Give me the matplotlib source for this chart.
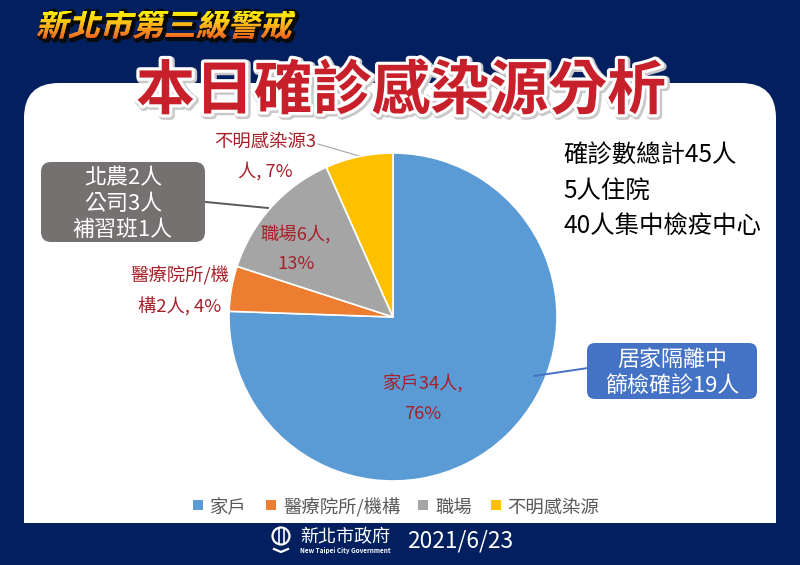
import matplotlib
matplotlib.use("Agg")
import matplotlib.pyplot as plt
import matplotlib.patheffects as pe
from matplotlib.patches import FancyBboxPatch, Rectangle, Circle
from matplotlib.transforms import Affine2D, Bbox
import matplotlib.colors as mcolors

plt.rcParams['font.family'] = ['Noto Sans CJK TC', 'DejaVu Sans']

categories = ['家戶', '醫療院所/機構', '職場', '不明感染源']
values = [34, 2, 6, 3]
colors = ['#5B9BD5', '#ED7D31', '#A5A5A5', '#FFC000']
slice_labels = ['家戶34人,\n76%', '醫療院所/機\n構2人, 4%', '職場6人,\n13%', '不明感染源3\n人, 7%']
summary_lines = ['確診數總計45人', '5人住院', '40人集中檢疫中心']
grey_note = '北農2人\n公司3人\n補習班1人'
blue_note = '居家隔離中\n篩檢確診19人'
main_title = '本日確診感染源分析'
sub_title = '新北市第三級警戒'
date_text = '2021/6/23'

W, H = 800, 565
NAVY = '#02205F'
RED = '#A8202A'
fig = plt.figure(figsize=(8, 5.65), dpi=100, facecolor=NAVY)
ax = fig.add_axes([0, 0, 1, 1])
Y = lambda py: H - py


class SlantGradient(pe.AbstractPathEffect):
    """Slanted text filled with a vertical yellow-to-red gradient, over a dark shadow."""

    def __init__(self, y_top, y_bottom, shear=14, bands=24):
        super().__init__()
        self.y_top, self.y_bottom, self.shear, self.bands = y_top, y_bottom, shear, bands
        self.cmap = mcolors.LinearSegmentedColormap.from_list(
            'g', ['#FFF200', '#FFC814', '#F78A1E', '#E8481C'])

    def draw_path(self, renderer, gc, tpath, affine, rgbFace=None):
        pivot = (self.y_top + self.y_bottom) / 2
        slant = affine + Affine2D().translate(0, -pivot).skew_deg(self.shear, 0).translate(0, pivot)
        g0 = renderer.new_gc()
        g0.copy_properties(gc)
        g0.set_foreground('#0A0A0A')
        g0.set_linewidth(3.0)
        renderer.draw_path(g0, tpath, slant + Affine2D().translate(2, -2), (0.04, 0.04, 0.04, 1))
        g0.restore()
        step = (self.y_top - self.y_bottom) / self.bands
        for i in range(self.bands):
            g1 = renderer.new_gc()
            g1.copy_properties(gc)
            g1.set_linewidth(0)
            top = self.y_top - i * step
            g1.set_clip_rectangle(Bbox([[0, top - step - 0.5], [800, top + 0.5]]))
            renderer.draw_path(g1, tpath, slant, self.cmap(i / (self.bands - 1)))
            g1.restore()


# white panel: rounded top corners, square bottom corners
ax.add_patch(FancyBboxPatch((24, Y(523)), 752, 440, boxstyle='round,pad=0,rounding_size=35',
                            fc='white', ec='none', zorder=1))
ax.add_patch(Rectangle((24, Y(523)), 752, 100, fc='white', ec='none', zorder=1))

wedges, _ = ax.pie(values, colors=colors, startangle=90, counterclock=False,
                   center=(393, Y(317)), radius=164, frame=False,
                   wedgeprops=dict(edgecolor='white', linewidth=1.2, zorder=3))
ax.set_xlim(0, W)
ax.set_ylim(0, H)
ax.set_aspect('equal')
ax.axis('off')

# slice labels
label_xy = [(423, 399), (180, 291), (296, 249), (265, 157)]
for (x, y), s in zip(label_xy, slice_labels):
    ax.text(x, Y(y), s, color=RED, fontsize=13.2, ha='center', va='center',
            linespacing=1.78, zorder=5)

# leader lines
ax.plot([318, 359], [Y(144), Y(156)], color='#A6A6A6', lw=0.8, zorder=2)
ax.plot([206, 268], [Y(202), Y(208)], color='#595959', lw=1.4, zorder=2)
ax.plot([534, 588], [Y(376), Y(368)], color='#4472C4', lw=1.4, zorder=4)

# notes
ax.add_patch(FancyBboxPatch((41, Y(242)), 164, 80, boxstyle='round,pad=0,rounding_size=10',
                            fc='#767171', ec='none', zorder=4))
ax.text(123, Y(204), grey_note, color='white', fontsize=15.8, ha='center', va='center',
        linespacing=1.22, zorder=5)
ax.add_patch(FancyBboxPatch((587, Y(399)), 170, 56, boxstyle='round,pad=0,rounding_size=8',
                            fc='#4472C4', ec='none', zorder=4))
ax.text(672, Y(373), blue_note, color='white', fontsize=15.8, ha='center', va='center',
        linespacing=1.3, zorder=5)

# summary
for s, py in zip(summary_lines, [156, 191, 226]):
    ax.text(563, Y(py), s, color='black', fontsize=17.6, ha='left', va='center', zorder=5)

# titles
ax.text(401, Y(92), main_title, color='#C8202A', fontsize=42.4, fontweight='bold', ha='center', va='center', zorder=6,
        path_effects=[pe.Stroke(linewidth=6, foreground='#C9C9C9', offset=(1, -1)),
                      pe.withStroke(linewidth=4.5, foreground='white')])
ax.text(166, Y(27), sub_title, color='#F9A71E', fontsize=23, fontweight='bold', ha='center', va='center', zorder=6,
        path_effects=[SlantGradient(Y(11), Y(43))])

# legend
handles_x = [193, 266, 418, 491]
text_x = [210, 283, 435, 507]
for hx, tx, name, c in zip(handles_x, text_x, categories, colors):
    ax.add_patch(Rectangle((hx, Y(510)), 10, 10, fc=c, ec='none', zorder=5))
    ax.text(tx, Y(508), name, color='#595959', fontsize=13.2, ha='left', va='center', zorder=5)

# footer
ax.text(345, Y(537), '新北市政府', color='white', fontsize=13, ha='center', va='center', zorder=5)
ax.text(345, Y(551), 'New Taipei City Government', color='white', fontsize=4.6, fontweight='bold',
        ha='center', va='center', zorder=5)
ax.text(460, Y(541), date_text, color='white', fontsize=16.4, ha='center', va='center', zorder=5)

# emblem
ax.add_patch(Circle((281, Y(536)), 8.5, fc='none', ec='white', lw=1.6, zorder=5))
for dx in (-2.5, 2.5):
    ax.plot([281 + dx, 281 + dx], [Y(528), Y(544)], color='white', lw=1.2, zorder=5)
ax.plot([274, 281, 288], [Y(549), Y(552), Y(549)], color='white', lw=1.6, zorder=5)

fig.savefig('out.png', dpi=100, facecolor=NAVY)
